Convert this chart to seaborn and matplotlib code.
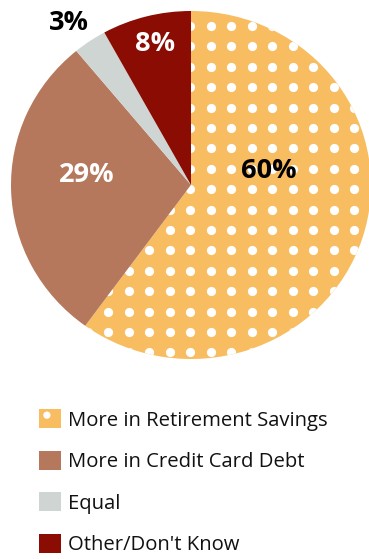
import numpy as np
import matplotlib
matplotlib.use("Agg")
import matplotlib.pyplot as plt
import seaborn as sns
from matplotlib.patches import Rectangle, Circle
from matplotlib.legend_handler import HandlerPatch

# Survey answers: where do people hold more money?
categories = ["More in Retirement Savings", "More in Credit Card Debt", "Equal", "Other/Don't Know"]
shares = [60, 29, 3, 8]
colors = ["#F7BD60", "#B5785C", "#CFD5D3", "#8A0C03"]
label_colors = ["black", "white", "black", "white"]
# label centres in pie units
label_xy = [(0.43, 0.08), (-0.58, 0.06), (-0.68, 0.93), (-0.20, 0.81)]

sns.set_theme(style="white")
plt.rcParams["font.family"] = ["Open Sans", "DejaVu Sans"]

W, H = 369, 559
fig = plt.figure(figsize=(W / 100, H / 100), dpi=100)
fig.patch.set_facecolor("white")

# pie box in pixels: x 11..371, y 11..359 (from top)
ax = fig.add_axes([11 / W, 1 - 359 / H, 360 / W, 348 / H])
wedges, _ = ax.pie(shares, colors=colors, startangle=90, counterclock=False,
                   radius=1.0, wedgeprops=dict(linewidth=0))
ax.set_aspect("auto")
ax.set_xlim(-1, 1)
ax.set_ylim(-1, 1)
ax.axis("off")

# white polka-dot texture on the largest slice
px_x = 190 + 20.5 * np.arange(-10, 10)
px_y = 26 + 20.4 * np.arange(0, 18)
gx, gy = np.meshgrid((px_x - 191) / 180, (185 - px_y) / 174)
dots = ax.scatter(gx.ravel(), gy.ravel(), s=44, c="white", linewidths=0, zorder=3)
dots.set_clip_path(wedges[0])

for (x, y), v, c in zip(label_xy, shares, label_colors):
    ax.text(x, y, f"{v}%", ha="center", va="center", color=c,
            fontsize=19.5, fontweight="bold", zorder=4, clip_on=False)


class DottedSquare(HandlerPatch):
    def create_artists(self, legend, orig_handle, xdescent, ydescent,
                       width, height, fontsize, trans):
        rect = Rectangle((-xdescent, -ydescent), width, height,
                         facecolor=orig_handle.get_facecolor(), linewidth=0,
                         transform=trans)
        dot = Circle((-xdescent + 0.36 * width, -ydescent + 0.68 * height),
                     radius=0.19 * height, facecolor="white", linewidth=0,
                     transform=trans)
        return [rect, dot]


fs = 14.6
leg = fig.legend(wedges, categories, loc="upper left",
                 bbox_to_anchor=(39 / W, 1 - 409 / H),
                 frameon=False, fontsize=fs, borderpad=0, borderaxespad=0,
                 handlelength=15.8 / fs, handleheight=15.8 / fs,
                 handletextpad=5 / fs, labelspacing=0.99,
                 handler_map={wedges[0]: DottedSquare()})
for t in leg.get_texts():
    t.set_color("#111111")

fig.savefig("out.png", dpi=100)
